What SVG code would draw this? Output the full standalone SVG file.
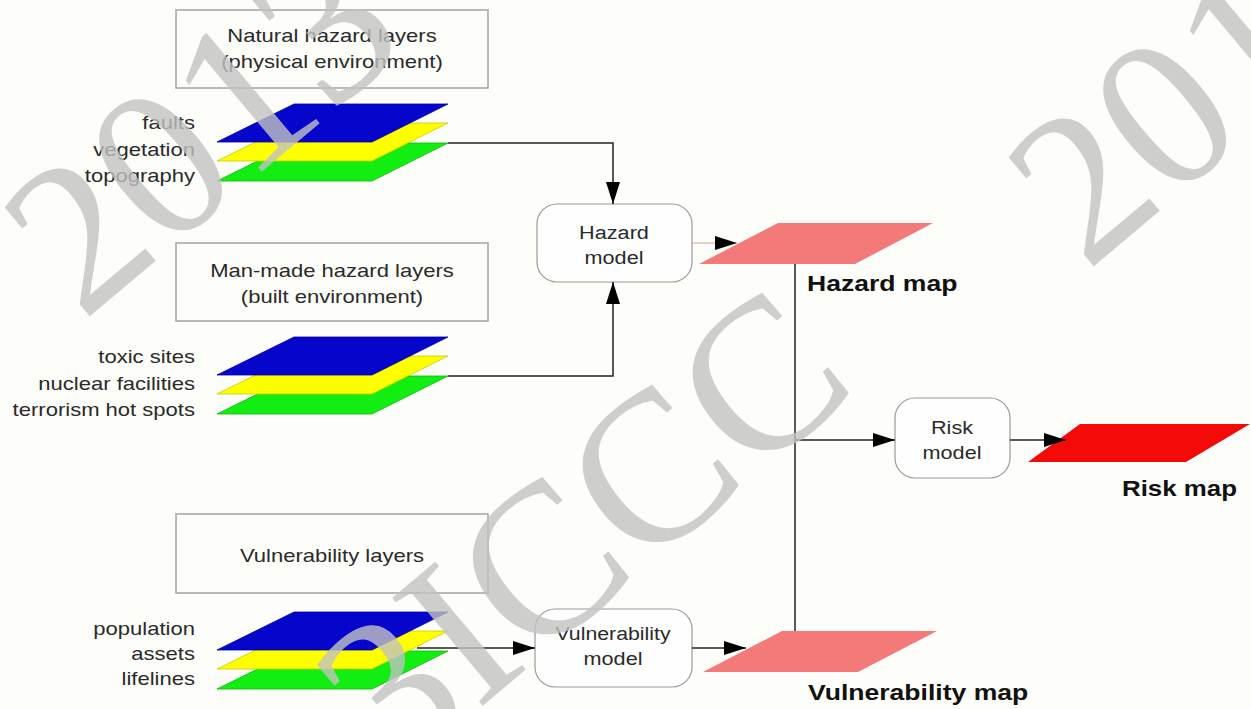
<svg xmlns="http://www.w3.org/2000/svg" xmlns:xlink="http://www.w3.org/1999/xlink" width="1251" height="709" viewBox="0 0 1251 709">
<style>
.t{font-family:"Liberation Sans",Arial,sans-serif;font-size:19px;fill:#2a2a2a}
.m{text-anchor:middle}
.e{text-anchor:end}
.b{font-family:"Liberation Sans",Arial,sans-serif;font-size:22.5px;font-weight:bold;fill:#111}
.frame{fill:none;stroke:#a3a3a3;stroke-width:1.5}
.model{fill:#fefefe;stroke:#9a9a9a;stroke-width:1.2}
.blue{fill:#0505cc;stroke:#000099;stroke-width:0.8}
.yellow{fill:#ffff00;stroke:#c9c900;stroke-width:0.8}
.green{fill:#12ee12;stroke:#08b808;stroke-width:0.8}
.map{fill:#f47a7a}
.conn{fill:none;stroke:#222;stroke-width:1.5}
.wm{font-family:"Liberation Serif","Times New Roman",serif;font-size:215px;fill:#c2c2c2;fill-opacity:0.8}
</style>
<defs>
<polygon id="pl" points="294,0 448,0 372,38 217,38"/>
<marker id="ah" viewBox="0 0 22 14" refX="22" refY="7" markerWidth="22" markerHeight="14" markerUnits="userSpaceOnUse" orient="auto">
<path d="M0,0 L22,7 L0,14 z" fill="#000"/>
</marker>
</defs>
<rect x="0" y="0" width="1251" height="709" fill="#fdfdf9"/>

<g id="natural-box">
<rect class="frame" x="176" y="10" width="312" height="78"/>
<text class="t m" transform="translate(332,42) scale(1.16,1)">Natural hazard layers</text>
<text class="t m" transform="translate(332,68) scale(1.16,1)">(physical environment)</text>
</g>
<g id="natural-layers">
<use xlink:href="#pl" y="143" class="green"/>
<use xlink:href="#pl" y="123" class="yellow"/>
<use xlink:href="#pl" y="104" class="blue"/>
<text class="t e" transform="translate(195,129) scale(1.16,1)">faults</text>
<text class="t e" transform="translate(195,156) scale(1.16,1)">vegetation</text>
<text class="t e" transform="translate(195,182) scale(1.16,1)">topography</text>
</g>

<g id="manmade-box">
<rect class="frame" x="176" y="243" width="312" height="78"/>
<text class="t m" transform="translate(332,277) scale(1.16,1)">Man-made hazard layers</text>
<text class="t m" transform="translate(332,303) scale(1.16,1)">(built environment)</text>
</g>
<g id="manmade-layers">
<use xlink:href="#pl" y="376" class="green"/>
<use xlink:href="#pl" y="356" class="yellow"/>
<use xlink:href="#pl" y="337" class="blue"/>
<text class="t e" transform="translate(195,363) scale(1.16,1)">toxic sites</text>
<text class="t e" transform="translate(195,390) scale(1.16,1)">nuclear facilities</text>
<text class="t e" transform="translate(195,416) scale(1.16,1)">terrorism hot spots</text>
</g>

<g id="vulnerability-box">
<rect class="frame" x="176" y="514" width="312" height="79"/>
<text class="t m" transform="translate(332,562) scale(1.16,1)">Vulnerability layers</text>
</g>
<g id="vulnerability-layers">
<use xlink:href="#pl" y="651" class="green"/>
<use xlink:href="#pl" y="631" class="yellow"/>
<use xlink:href="#pl" y="612" class="blue"/>
<text class="t e" transform="translate(195,635) scale(1.16,1)">population</text>
<text class="t e" transform="translate(195,660) scale(1.16,1)">assets</text>
<text class="t e" transform="translate(195,685) scale(1.16,1)">lifelines</text>
</g>

<g id="hazard-model">
<rect class="model" x="537" y="204" width="155" height="78" rx="20"/>
<text class="t m" transform="translate(614,239) scale(1.14,1)">Hazard</text>
<text class="t m" transform="translate(614,264) scale(1.14,1)">model</text>
</g>
<g id="vulnerability-model">
<rect class="model" x="535" y="609" width="157" height="78" rx="20"/>
<text class="t m" transform="translate(613,640) scale(1.12,1)">Vulnerability</text>
<text class="t m" transform="translate(613,665) scale(1.14,1)">model</text>
</g>
<g id="risk-model">
<rect class="model" x="895" y="398" width="115" height="80" rx="20"/>
<text class="t m" transform="translate(952,434) scale(1.14,1)">Risk</text>
<text class="t m" transform="translate(952,459) scale(1.14,1)">model</text>
</g>

<g id="hazard-map">
<polygon class="map" points="778,223 933,223 855,264 699,264"/>
<text class="b" transform="translate(807,291) scale(1.18,1)">Hazard map</text>
</g>
<g id="vulnerability-map">
<polygon class="map" points="782,631 937,631 858,672 703,672"/>
<text class="b" transform="translate(808,700) scale(1.18,1)">Vulnerability map</text>
</g>
<g id="risk-map">
<polygon points="1080,424 1250,424 1186,462 1028,462" fill="#f50a0a"/>
<text class="b" transform="translate(1122,496) scale(1.15,1)">Risk map</text>
</g>

<g id="connectors">
<polyline class="conn" points="448,143 613,143 613,204" marker-end="url(#ah)"/>
<polyline class="conn" points="448,376 613,376 613,282" marker-end="url(#ah)"/>
<line x1="692" y1="243" x2="737" y2="243" stroke="#d4a0a0" stroke-width="1" marker-end="url(#ah)"/>
<line class="conn" x1="417" y1="648" x2="535" y2="648" marker-end="url(#ah)"/>
<line class="conn" x1="692" y1="648" x2="746" y2="648" marker-end="url(#ah)"/>
<line class="conn" x1="795" y1="264" x2="795" y2="631"/>
<line class="conn" x1="795" y1="440" x2="895" y2="440" marker-end="url(#ah)"/>
<line class="conn" x1="1010" y1="440" x2="1066" y2="440" marker-end="url(#ah)"/>
</g>

<g id="watermark">
<text class="wm" transform="translate(82.5,322.3) rotate(-40)">2013</text>
<text class="wm" transform="translate(394.5,779.9) rotate(-40)">3ICCC</text>
<text class="wm" transform="translate(1086.5,272.3) rotate(-40)">201</text>
</g>
</svg>
